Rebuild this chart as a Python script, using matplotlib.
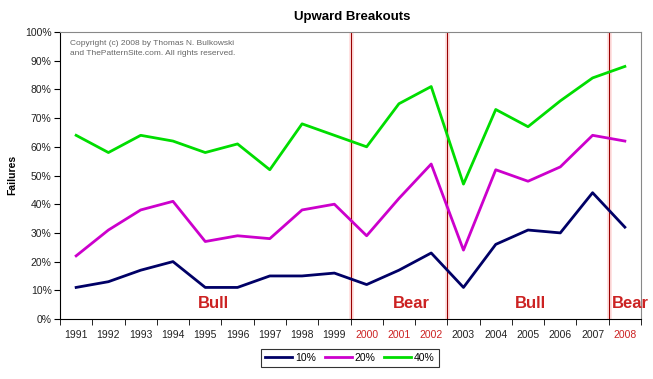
import matplotlib
matplotlib.use("Agg")
import matplotlib.pyplot as plt
import numpy as np

plt.rcParams['font.family'] = ['Liberation Sans', 'DejaVu Sans']

years = ['1991', '1992', '1993', '1994', '1995', '1996', '1997', '1998', '1999',
         '2000', '2001', '2002', '2003', '2004', '2005', '2006', '2007', '2008']
s10 = [11, 13, 17, 20, 11, 11, 15, 15, 16, 12, 17, 23, 11, 26, 31, 30, 44, 32]
s20 = [22, 31, 38, 41, 27, 29, 28, 38, 40, 29, 42, 54, 24, 52, 48, 53, 64, 62]
s40 = [64, 58, 64, 62, 58, 61, 52, 68, 64, 60, 75, 81, 47, 73, 67, 76, 84, 88]
bear_years = ['2000', '2001', '2002', '2008']
regime_breaks = ['2000', '2003', '2008']
regime_names = ['Bull', 'Bear', 'Bull', 'Bear']

fig = plt.figure(figsize=(6.53, 3.79), dpi=100)
ax = fig.add_axes([60/653, 1-319/379, 581/653, 287/379])
x = np.arange(len(years))

ax.plot(x, s10, color='#000066', lw=2, label='10%')
ax.plot(x, s20, color='#CC00CC', lw=2, label='20%')
ax.plot(x, s40, color='#00DD00', lw=2, label='40%')

for yb in regime_breaks:
    xi = years.index(yb) - 0.5
    ax.axvline(xi, color='#FFE0E0', lw=3.5, zorder=0)
    ax.axvline(xi, color='#990000', lw=0.8, zorder=1)

label_x_px = [213, 411, 530, 630]
for name, px in zip(regime_names, label_x_px):
    ax.text(px/653, 1-304/379, name, transform=fig.transFigure, color='#CC2222',
            fontsize=12, fontweight='bold', ha='center', va='center')

ax.set_xlim(-0.5, len(years) - 0.5)
ax.set_ylim(0, 100)
ax.set_yticks(np.arange(0, 101, 10))
ax.set_yticklabels([f'{v}%' for v in range(0, 101, 10)], fontsize=7.5, color='#222222')
ax.set_xticks(x)
ax.set_xticklabels(years, fontsize=7.5)
ax.tick_params(axis='x', which='major', length=0, pad=8)
ax.set_xticks(np.arange(-0.5, len(years), 1), minor=True)
ax.tick_params(axis='x', which='minor', length=4, direction='out')
ax.tick_params(axis='y', length=4, direction='out', pad=2)
for lbl in ax.get_xticklabels():
    if lbl.get_text() in bear_years:
        lbl.set_color('#CC2222')
    else:
        lbl.set_color('#222222')

for sp in ['top', 'right']:
    ax.spines[sp].set_color('#888888')
for sp in ['left', 'bottom']:
    ax.spines[sp].set_color('black')

fig.text(70/653, 1-40/379, 'Copyright (c) 2008 by Thomas N. Bulkowski\nand ThePatternSite.com. All rights reserved.',
         fontsize=6, color='#666666', va='top', ha='left', linespacing=1.6)

fig.text(352/653, 1-17/379, 'Upward Breakouts', fontsize=9.5, fontweight='bold',
         ha='center', va='center')
fig.text(12/653, 1-175/379, 'Failures', fontsize=7.5, fontweight='bold',
         rotation=90, ha='center', va='center')

leg = fig.legend(loc='center', bbox_to_anchor=(350/653, 1-358/379), ncol=3,
                 fontsize=7.5, frameon=True, fancybox=False, edgecolor='black',
                 handlelength=2.6, columnspacing=0.8, handletextpad=0.3,
                 borderpad=0.4, borderaxespad=0)
leg.get_frame().set_linewidth(0.8)

fig.savefig('out.png', dpi=100)
